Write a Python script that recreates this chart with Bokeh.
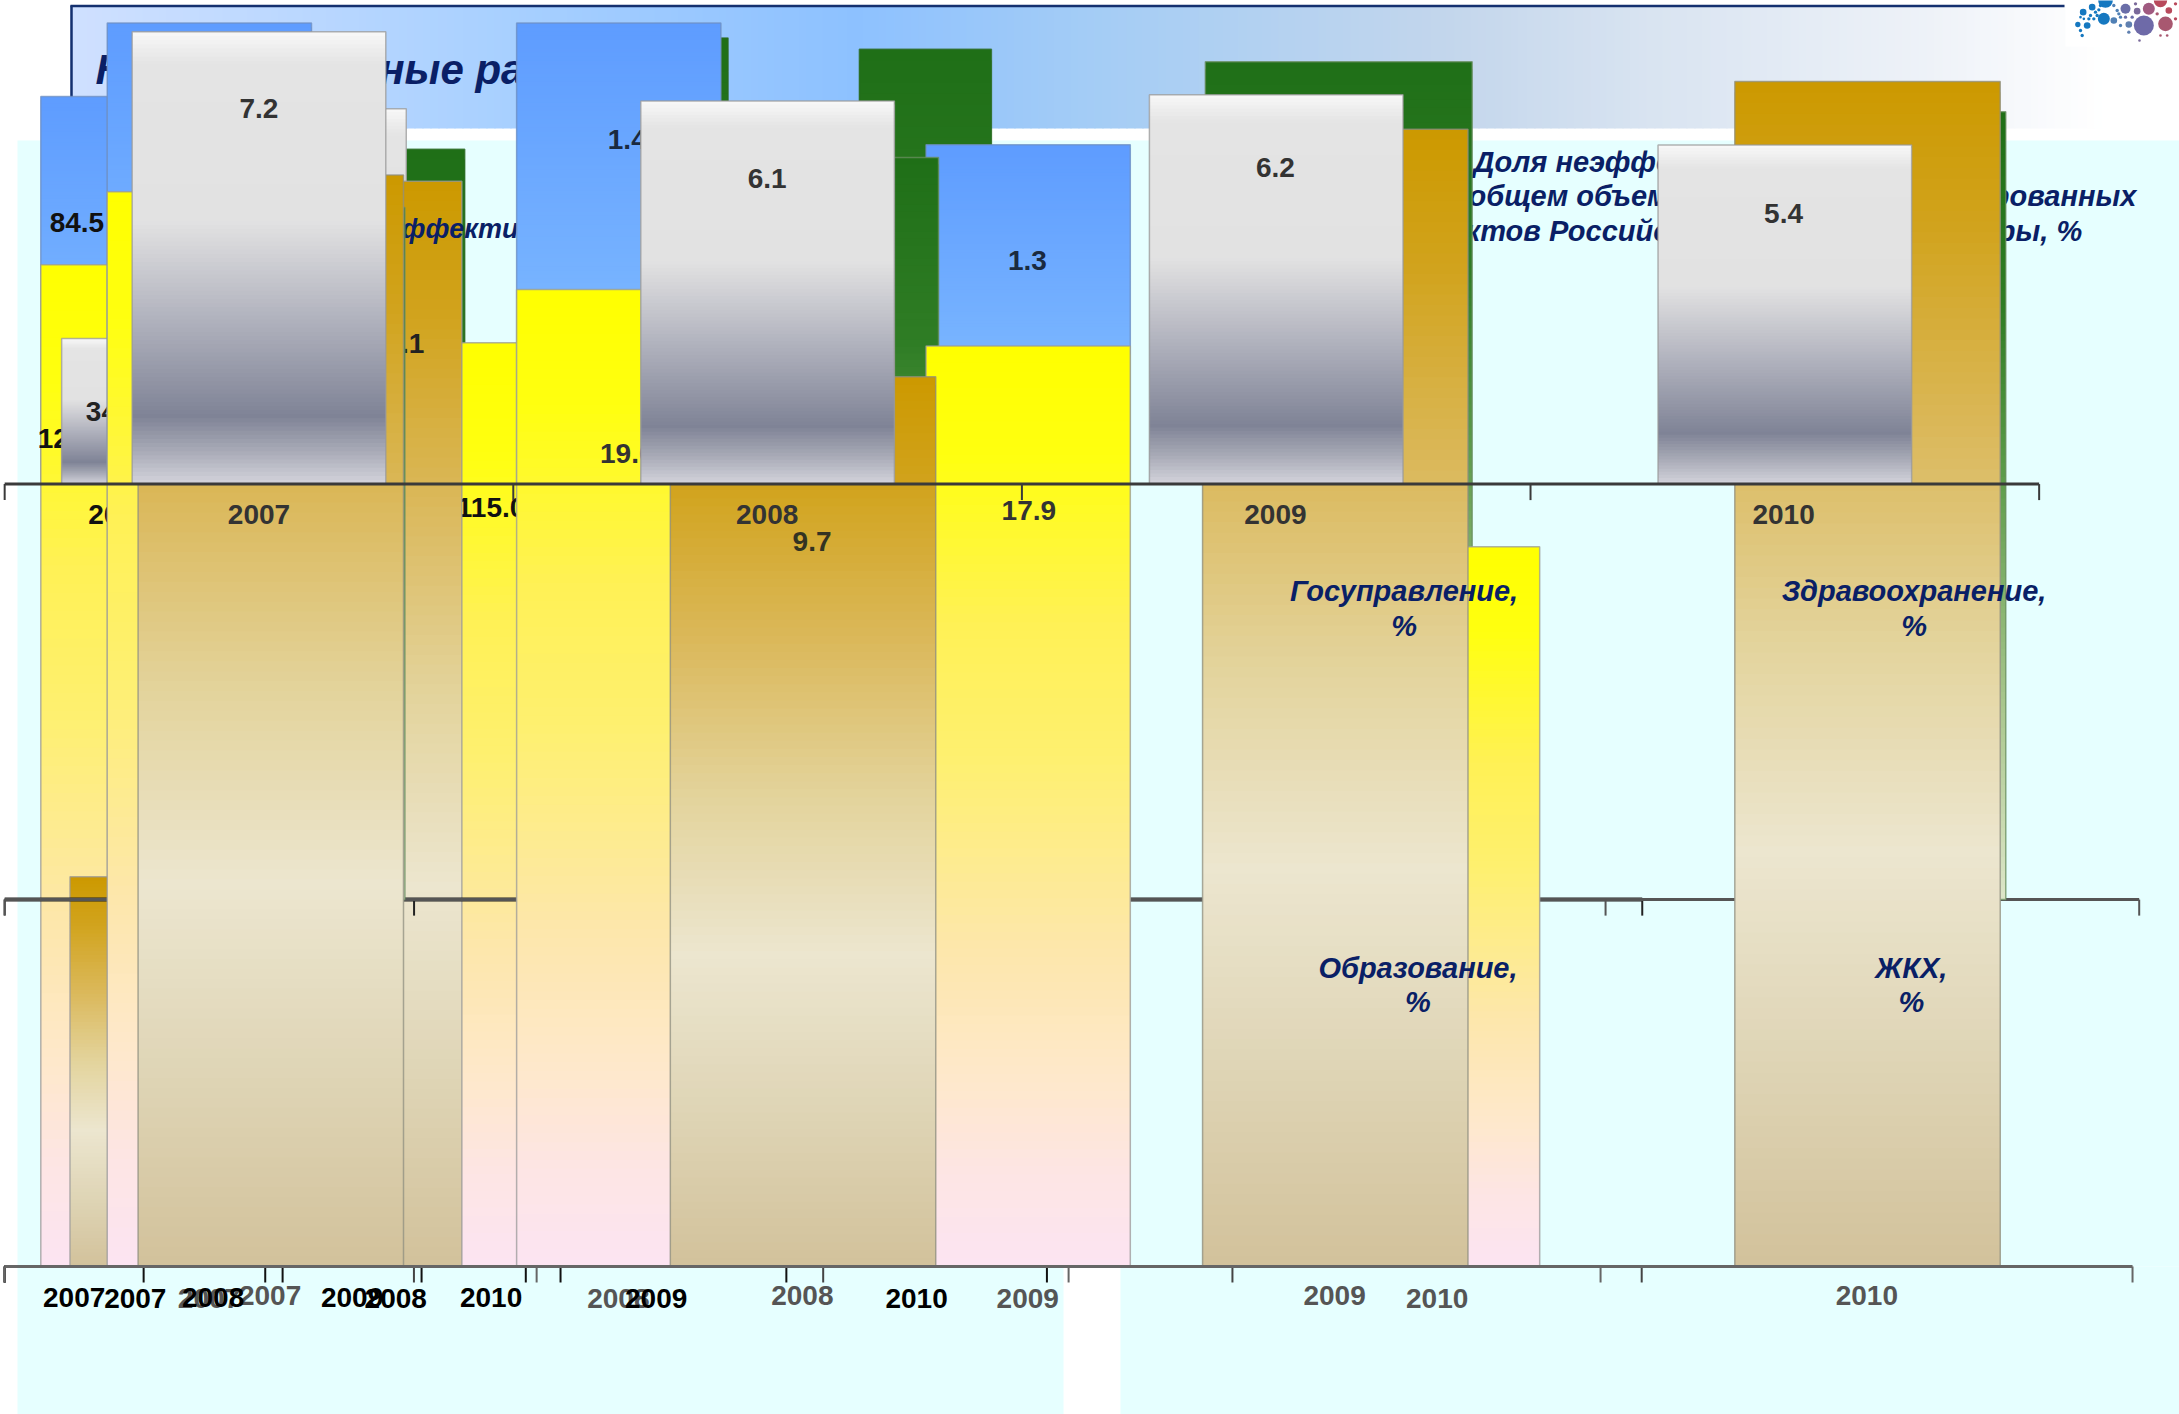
from bokeh.plotting import figure
from bokeh.models import Range1d
from bokeh.core.properties import value
from bokeh.embed import file_html
from bokeh.resources import INLINE

# ---------- data ----------
years = ["2007", "2008", "2009", "2010"]
white_big = [7.2, 6.1, 6.2, 5.4]
white_small = [34.1, 88.0, 75.0, 70.0]
gold_big = [11.9, 9.7, 12.4, 12.92]
gold_small = [2.55, 7.1, 5.2, 5.0]
yellow_a = [124.7, 121.0, 118.0, 115.0]
blue_a = [84.5]
yellow_b = [20.9, 19.0, 17.9, 14.0]
blue_b = [1.40, 1.40, 1.03]
green_big = [8.3, 8.9, 10.05, 9.45]
green_narrow = [20.0, 20.1, 22.1, 21.9]

F = "Liberation Sans"
W, H = 2179, 1414
OV = 2179 / 1568      # layout below was measured on a 1568-wide view
NAVY = "#0a1f66"

GOLD = [(0, "#cc9900"), (.12, "#d1a31c"), (.30, "#dbb95c"), (.47, "#e3d39b"), (.65, "#ece6cf"), (.82, "#dfd5b6"), (1, "#d2c29b")]
YEL = [(0, "#ffff00"), (.12, "#ffff10"), (.30, "#fff155"), (.45, "#fef070"), (.65, "#fde7aa"), (.80, "#fee8cc"), (.90, "#fde5e4"), (1, "#fce4f2")]
BLUE = [(0, "#5e9cff"), (.6, "#78b4ff"), (1, "#9acbff")]
GRN = [(0, "#1f6f17"), (.25, "#2f7d25"), (.45, "#5a9a48"), (.75, "#a8c68c"), (1, "#dde6c8")]
WHT = [(0, "#f8f8f8"), (.07, "#e4e4e4"), (.42, "#e2e2e2"), (.62, "#b4b6c0"), (.85, "#7f8396"), (.93, "#aaacb8"), (1, "#d4d4dc")]
BAND = [(70, "#cfe0ff"), (500, "#a8d0ff"), (850, "#8dc1ff"), (1100, "#a5cdf5"), (1444, "#c3d6ec"), (1650, "#d9e4f1"), (1926, "#eef2f8"), (2100, "#ffffff")]


def hx(c):
    return tuple(int(c[i:i + 2], 16) for i in (1, 3, 5))


def ramp(stops, t):
    for (a, ca), (b, cb) in zip(stops, stops[1:]):
        if t <= b:
            f = (t - a) / (b - a)
            x, y = hx(ca), hx(cb)
            return "#%02x%02x%02x" % tuple(round(x[i] + (y[i] - x[i]) * f) for i in range(3))
    return stops[-1][1]


p = figure(width=W, height=H, x_range=(0, W), y_range=(H, 0), x_axis_type=None, y_axis_type=None,
           toolbar_location=None, output_backend="svg", min_border=0, outline_line_color=None,
           background_fill_color="white", border_fill_color="white")
nranges = [0]


def chart(x0, s, base, k):
    """A chart's own scales: category i -> x0+(i+.5)*s, value v -> base-v*k (view units)."""
    nranges[0] += 1
    nx, ny = "x%d" % nranges[0], "y%d" % nranges[0]
    x0, s, base, k = x0 * OV, s * OV, base * OV, k * OV
    p.extra_x_ranges[nx] = Range1d(start=(0 - x0) / s - .5, end=(W - x0) / s - .5)
    p.extra_y_ranges[ny] = Range1d(start=(base - H) / k, end=base / k)
    return dict(x_range_name=nx, y_range_name=ny), s


def bars(rng, vals, width, stops, outline="#777777", idx=None, n=110):
    idx = list(range(len(vals))) if idx is None else idx
    L, R, T, B, C = [], [], [], [], []
    for i, v in zip(idx, vals):
        for j in range(n):
            L.append(i - width / 2); R.append(i + width / 2)
            T.append(v * (1 - j / n)); B.append(v * (1 - (j + 2) / n) if j < n - 1 else 0)
            C.append(ramp(stops, (j + .5) / n))
    p.quad(left=L, right=R, top=T, bottom=B, fill_color=C, line_color=None, **rng)
    p.quad(left=[i - width / 2 for i in idx], right=[i + width / 2 for i in idx], top=vals, bottom=[0] * len(vals),
           fill_color=None, line_color=outline, line_alpha=.75, line_width=1.5, **rng)


def txt(x, y, s, size=28, color="#222222", style="bold", align="center"):
    p.text(x=[x * OV], y=[y * OV], text=[s], text_font=value(F), text_font_size="%gpx" % size,
           text_font_style=style, text_color=color, text_align=align, text_baseline="middle")


def axis(x0, s, y, color="#444444", lw=3, n=4, tick=16):
    x = [(x0 + i * s) * OV for i in range(n + 1)]
    yy = y * OV
    p.segment(x0=[x[0]] + x, y0=[yy] * (n + 2), x1=[x[-1]] + x, y1=[yy] + [yy + tick] * (n + 1),
              line_color=color, line_width=[lw] + [2] * (n + 1))


# ---------- background ----------
p.quad(left=[17], right=[W], top=[140], bottom=[1266], fill_color="#e6ffff", line_color=None)
p.quad(left=[17, 1120], right=[1063, W], top=[1266, 1266], bottom=[H, H], fill_color="#e6ffff", line_color=None)
xs = list(range(70, W, 8))
p.quad(left=xs, right=[x + 9 for x in xs], top=[5] * len(xs), bottom=[128] * len(xs),
       fill_color=[ramp(BAND, min(x, 2100)) for x in xs], line_color=None)
p.quad(left=[2065], right=[W], top=[0], bottom=[46], fill_color="white", line_color=None)
p.segment(x0=[70, 71], y0=[5.5, 5], x1=[2064, 71], y1=[5.5, 130], line_color="#14306f", line_width=2.5)
# logo
dx = [135, 130, 250, 315, 265, 195, 95, 68, 52, 80, 160, 205, 230, 300, 325, 110, 100, 90, 175, 180, 60, 65, 237, 300, 320, 180, 205,
      105, 115, 120, 85, 160, 170, 195, 215, 225, 290, 345, 345, 70, 60]
dy = [0, 55, 75, 70, 25, 25, 20, 35, 72, 75, 60, 72, 32, 0, 30, 45, 55, 45, 40, 50, 90, 105, 120, 105, 105, 75, 95,
      35, 28, 15, 55, 15, 30, 50, 50, 10, 40, 55, 10, 55, 50]
dr = [22, 18, 30, 22, 18, 15, 10, 10, 8, 10, 10, 10, 10, 20, 10, 5, 5, 5, 5, 5, 5, 5, 4, 4, 4, 5, 5,
      5, 5, 5, 5, 5, 5, 5, 5, 5, 5, 5, 5, 4, 4]
dc = ["#1678c0", "#1678c0", "#6e6aa8", "#a85870", "#a05a80", "#6a6ea8", "#1678c0", "#1678c0", "#1678c0", "#1678c0",
      "#5080b5", "#6080b0", "#7a6a9a", "#b84a5c", "#b84a5c", "#1678c0", "#1678c0", "#1678c0", "#5080b5", "#5080b5",
      "#1678c0", "#1678c0", "#7a6a9a", "#a85870", "#a85870", "#5080b5", "#6080b0",
      "#1678c0", "#1678c0", "#1678c0", "#1678c0", "#5080b5", "#5080b5", "#6a6ea8", "#6a6ea8", "#7a6a9a", "#a85870", "#b84a5c", "#b84a5c", "#1678c0", "#1678c0"]
p.scatter(x=[2060 + v / 3 for v in dx], y=[v / 3 for v in dy], size=[2 * v / 3 for v in dr], fill_color=dc,
          line_color=None, marker="circle")

# ---------- background texts ----------
p.text(x=[95], y=[69], text=["Неэффективные расходы"], text_font=value(F), text_font_size="42px", text_font_style="bold italic",
       text_color=NAVY, text_baseline="middle")
txt(1060, 116, "Доля неэффективных расходов", 29, NAVY, "bold italic", "left")
txt(1537, 141, "в общем объеме расходов консолидированных", 29, NAVY, "bold italic", "right")
txt(1498, 166, "субъектов Российской Федерации по сферы, %", 29, NAVY, "bold italic", "right")

# ---------- overlapping chart layers, back to front ----------
r, _ = chart(2.3, 189.5, 911, 40.0)
bars(r, green_narrow, 95 / 189.5, GRN, outline="#2a6a20")

r, _ = chart(3, 100, 911, 5.78)
rb, _ = chart(3, 100, 348, 3.3)
bars(rb, blue_a, 48 / 100, BLUE, outline="#6f8fc0")
bars(r, yellow_a, 48 / 100, YEL, outline="#999999")
txt(55, 160, "84.5", 28, "#111111")
txt(52, 315, "124.7", 28, "#111111")
txt(353, 365, "115.0", 28, "#111111")

r, _ = chart(3, 165, 348, 3.07)
bars(r, white_small, 83 / 165, WHT, outline="#999999")
txt(81, 296, "34.1", 28)
for i, yr in enumerate(years):
    txt(85.5 + i * 165, 370, yr, 28, "#111111")

r, _ = chart(3, 188, 911, 110.0)
bars(r, gold_small, 94 / 188, GOLD, outline="#999999")
txt(291, 247, "7.1", 28, "#222222")

p.text(x=[352], y=[228], text=["Неэффективных расходов"], text_font=value(F), text_font_size="27px", text_font_style="bold italic",
       text_color=NAVY, text_baseline="middle")

axis(3, 294.6, 647, "#222222", 4)
axis(3, 384, 647, "#555555", 3)

r, _ = chart(3, 294.6, 348, 237.0)
bars(r, blue_b, 147 / 294.6, BLUE, outline="#6f8fc0")
txt(451, 100, "1.4", 28, "#1a2a40")
txt(739, 187, "1.3", 28, "#1a2a40")

r, _ = chart(3, 384, 647, 60.0)
bars(r, green_big, 192 / 384, GRN, outline="#6a8f60")

r, _ = chart(3, 294.6, 911, 37.0)
bars(r, yellow_b, 147 / 294.6, YEL, outline="#999999")
txt(451, 326, "19.0", 28, "#333333")
txt(740, 367, "17.9", 28, "#333333")

r, _ = chart(3, 383, 911, 66.0)
bars(r, gold_big, 191 / 383, GOLD, outline="#8f8f80")
txt(584, 389, "9.7", 28, "#333322")

r, _ = chart(3, 366, 348, 45.2)
bars(r, white_big, 182.5 / 366, WHT, outline="#999999")
for i, (yr, lab, ly) in enumerate(zip(years, white_big, [78, 128, 120, 153])):
    txt(186 + i * 365.7, ly, str(lab), 28, "#333333")
    txt(186 + i * 365.7, 370, yr, 28, "#333333")

# ---------- axes and year labels on top ----------
axis(3, 366, 348, "#3a3a3a", 3)
axis(3, 100, 911, "#111111", 3)
axis(3, 187.5, 911, "#111111", 3)
axis(3, 294.5, 911, "#444444", 3)
axis(3, 382.8, 911, "#666666", 3)
for i, yr in enumerate(years):
    txt(150 + i * 294.6, 934, yr, 28, "#555555")
    txt(194 + i * 383, 932, yr, 28, "#555555")
for i, yr in enumerate(years):
    txt(53 + i * 100, 933, yr, 28, "#000000")
    txt(97 + i * 187.4, 934, yr, 28, "#000000")

# ---------- section captions ----------
txt(1010, 425, "Госуправление,", 29, NAVY, "bold italic")
txt(1010, 450, "%", 29, NAVY, "bold italic")
txt(1377, 425, "Здравоохранение,", 29, NAVY, "bold italic")
txt(1377, 450, "%", 29, NAVY, "bold italic")
txt(1020, 696, "Образование,", 29, NAVY, "bold italic")
txt(1020, 721, "%", 29, NAVY, "bold italic")
txt(1375, 696, "ЖКХ,", 29, NAVY, "bold italic")
txt(1375, 721, "%", 29, NAVY, "bold italic")

open("out.html", "w").write(file_html(p, INLINE))
